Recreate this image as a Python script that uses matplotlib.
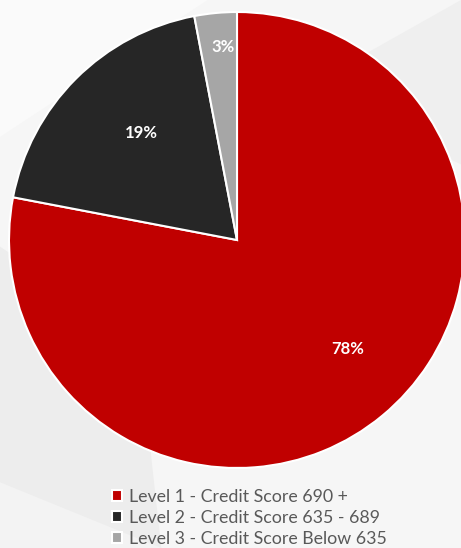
import numpy as np
import matplotlib.pyplot as plt
from matplotlib.patches import Polygon

labels = ["Level 1 - Credit Score 690 +",
          "Level 2 - Credit Score 635 - 689",
          "Level 3 - Credit Score Below 635"]
shares = [78, 19, 3]
colors = ["#C00000", "#262626", "#A6A6A6"]

# where Excel put the % labels: (distance from centre, angle in degrees)
label_pos = [(0.68, -44.7), (0.63, 132.0), (0.85, 94.0)]

W, H = 461, 548
fig = plt.figure(figsize=(W / 100, H / 100), dpi=100)
fig.patch.set_facecolor("#f6f6f6")

# faint diagonal shading in the background
bg = [
    ([(0, 0.55), (0.3, 0.38), (0.35, 0.0), (0.0, 0.0)], "#ededed"),
    ([(0, 0.12), (0.35, 0.0), (0.0, 0.0)], "#f3f3f3"),
    ([(0.62, 0.82), (1.0, 1.0), (1.0, 0.70), (0.8, 0.78)], "#efefef"),
    ([(0, 1.0), (0.45, 1.0), (0, 0.75)], "#fafafa"),
]
for pts, c in bg:
    fig.patches.append(Polygon(pts, closed=True, transform=fig.transFigure,
                               facecolor=c, edgecolor="none", zorder=-5))

cx, cy, r = 237, 240, 228
ax = fig.add_axes([(cx - r) / W, 1 - (cy + r) / H, 2 * r / W, 2 * r / H])
ax.set_zorder(1)

wedges, _ = ax.pie(shares, colors=colors, startangle=90, counterclock=False,
                   radius=1, frame=True,
                   wedgeprops=dict(edgecolor="white", linewidth=1.5))
ax.set_xlim(-1, 1)
ax.set_ylim(-1, 1)
ax.axis("off")

for s, (d, a) in zip(shares, label_pos):
    t = np.deg2rad(a)
    ax.text(d * np.cos(t), d * np.sin(t), f"{s}%", color="white",
            fontsize=12, fontweight="bold", family="Lato",
            ha="center", va="center")

leg = fig.legend(wedges, labels, loc="upper left",
                 bbox_to_anchor=(103 / W, 1 - 480 / H), frameon=False,
                 prop=dict(family="Lato", size=12.8), labelcolor="#595959",
                 handlelength=0.55, handleheight=0.55, handletextpad=0.4,
                 labelspacing=0.28, borderpad=0)
leg.set_zorder(2)

fig.savefig("out.png", dpi=100, facecolor=fig.get_facecolor())
